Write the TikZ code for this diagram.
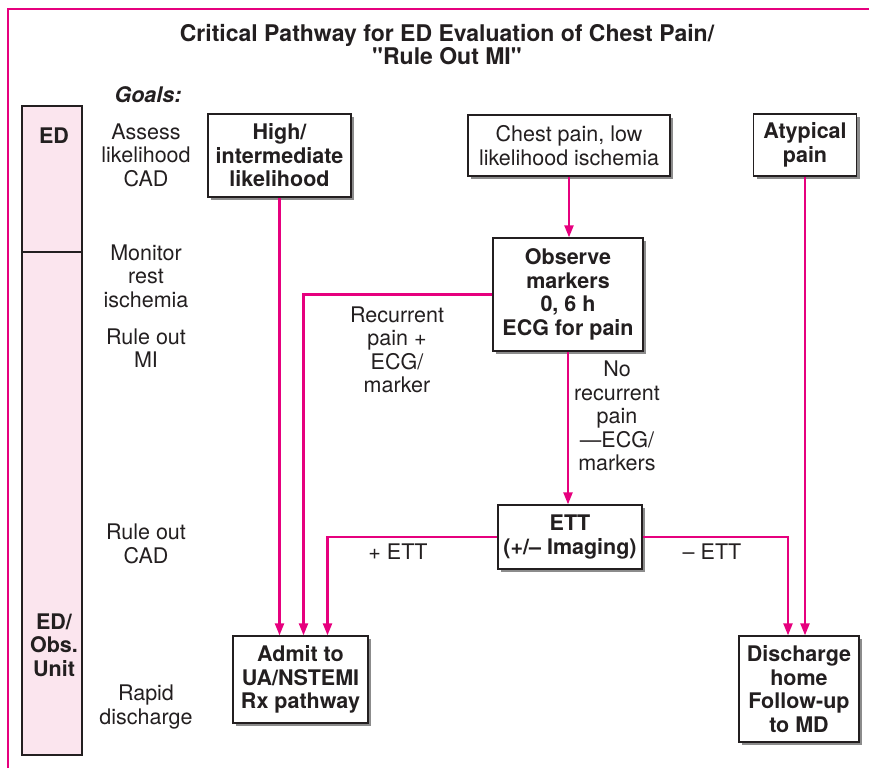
\documentclass[tikz,border=0pt]{standalone}
\usepackage{fontspec}
\setmainfont{TeX Gyre Heros}
\usetikzlibrary{arrows.meta,shadows}
\definecolor{pathColor}{HTML}{E6007E}
\definecolor{unitColor}{HTML}{FBE5EE}
\definecolor{inkColor}{HTML}{231F20}
\newcommand{\chartFont}{\fontsize{21.5}{23.5}\selectfont}
\tikzset{
	pathway box/.style={draw=inkColor, fill=white, line width=1.3pt, align=center,
			text=inkColor, inner sep=2pt, font=\chartFont,
			drop shadow={shadow xshift=3pt, shadow yshift=-3pt, fill=black!45, opacity=1}},
	bold box/.style={pathway box, font=\chartFont\bfseries},
	goal/.style={align=center, text=inkColor, font=\chartFont},
	unit label/.style={align=center, text=inkColor, font=\chartFont\bfseries},
	flow/.style={draw=pathColor, line width=2.2pt, -{Triangle[length=12pt,width=9pt]}}
}

\begin{document}
\begin{tikzpicture}[x=1pt, y=-1pt]
	\useasboundingbox (0,0) rectangle (869,771);
	\draw[pathColor, line width=1.2pt] (8,768) -- (8,9) -- (869,9);
	% title and goals column
	\node[unit label, font=\fontsize{23}{23}\selectfont\bfseries] at (447,45) (title)
		{Critical Pathway for ED Evaluation of Chest Pain/\\\textquotedbl Rule Out MI\textquotedbl};
	\node[text=inkColor, font=\chartFont\bfseries\itshape] at (148,95) (goals) {Goals:};
	\draw[draw=inkColor, line width=1.2pt, fill=unitColor] (22,106) rectangle (82,755);
	\draw[draw=inkColor, line width=1.2pt] (22,252) -- (82,252);
	\node[unit label] at (54,136) (ed) {ED};
	\node[unit label] at (54,645) (obsunit) {ED/\\Obs.\\Unit};
	\node[goal] at (146,155) (g_assess) {Assess\\likelihood\\CAD};
	\node[goal] at (146,276) (g_monitor) {Monitor\\rest\\ischemia};
	\node[goal] at (146,348) (g_mi) {Rule out\\MI};
	\node[goal] at (146,544) (g_cad) {Rule out\\CAD};
	\node[goal] at (146,707) (g_rapid) {Rapid\\discharge};
	% pathway boxes
	\node[bold box, minimum width=143pt, minimum height=83pt] at (279.5,155.5) (hi)
		{High/\\intermediate\\likelihood};
	\node[pathway box, minimum width=202pt, minimum height=61pt] at (569,145.5) (chest)
		{Chest pain, low\\likelihood ischemia};
	\node[bold box, minimum width=103pt, minimum height=62pt] at (805,145) (atyp)
		{Atypical\\pain};
	\node[bold box, minimum width=150pt, minimum height=113pt] at (568,294.5) (obs)
		{Observe\\markers\\0, 6 h\\ECG for pain};
	\node[bold box, minimum width=144pt, minimum height=64pt] at (570,537) (ett)
		{ETT\\(+/– Imaging)};
	\node[bold box, minimum width=135pt, minimum height=87pt] at (300.5,679.5) (adm)
		{Admit to\\UA/NSTEMI\\Rx pathway};
	\node[bold box, minimum width=120pt, minimum height=106pt] at (799,689) (dis)
		{Discharge\\home\\Follow-up\\to MD};
	% connector labels
	\node[goal] at (397,350) (lab_rec) {Recurrent\\pain +\\ECG/\\marker};
	\node[goal] at (617,416) (lab_norec) {No\\recurrent\\pain\\—ECG/\\markers};
	\node[goal] at (398,552) (lab_pos) {+ ETT};
	\node[goal] at (712,552) (lab_neg) {– ETT};
	% connectors
	\path (hi.south) edge[flow] (hi.south |- adm.north);
	\draw[flow] (obs.west) -| ([xshift=3pt]adm.north);
	\draw[flow] (ett.west) -| ([xshift=27pt]adm.north);
	\path (chest.south) edge[flow] (chest.south |- obs.north);
	\path (obs.south) edge[flow] (obs.south |- ett.north);
	\draw[flow] (ett.east) -| ([xshift=-11pt]dis.north);
	\path (atyp.south) edge[flow] (atyp.south |- dis.north);
\end{tikzpicture}
\end{document}
